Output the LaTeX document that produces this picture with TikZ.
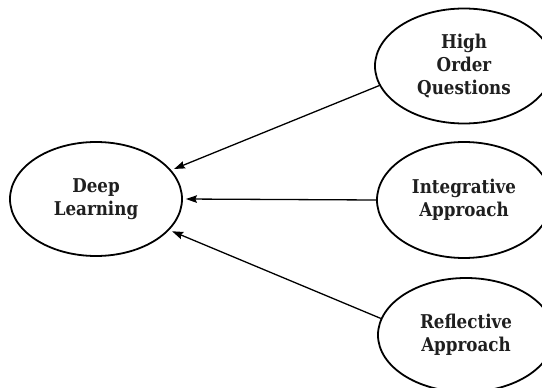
\documentclass[tikz,border=0pt]{standalone}
\usepackage{fontspec}
\setmainfont{DejaVu Serif}[FakeStretch=0.88]
\usetikzlibrary{shapes.geometric,arrows.meta}
\begin{document}
\begin{tikzpicture}[x=1pt,y=-1pt,
  bubble/.style={ellipse, draw, line width=1.8pt, inner sep=0pt,
    font=\bfseries\fontsize{19}{23}\selectfont, align=center, text=black!88},
  link/.style={line width=1.3pt, -{Stealth[length=11pt,width=7.5pt,inset=1.5pt]}, shorten >=3pt}]
\useasboundingbox (0,0) rectangle (542,388);
% central concept
\node[bubble, minimum width=172pt, minimum height=114pt] (dl) at (96,199) {Deep\\Learning};
% contributing concepts
\node[bubble, minimum width=178pt, minimum height=115pt] (hoq) at (464,66) {High\\Order\\Questions};
\node[bubble, minimum width=174pt, minimum height=116pt] (ia) at (464,200) {Integrative\\Approach};
\node[bubble, minimum width=176pt, minimum height=114pt] (ra) at (466,335) {Reflective\\Approach};
% influences
\draw[link] (hoq.193) -- (dl.21);
\draw[link] (ia.west) -- (dl.east);
\draw[link] (ra.169) -- (dl.337);
\end{tikzpicture}
\end{document}
